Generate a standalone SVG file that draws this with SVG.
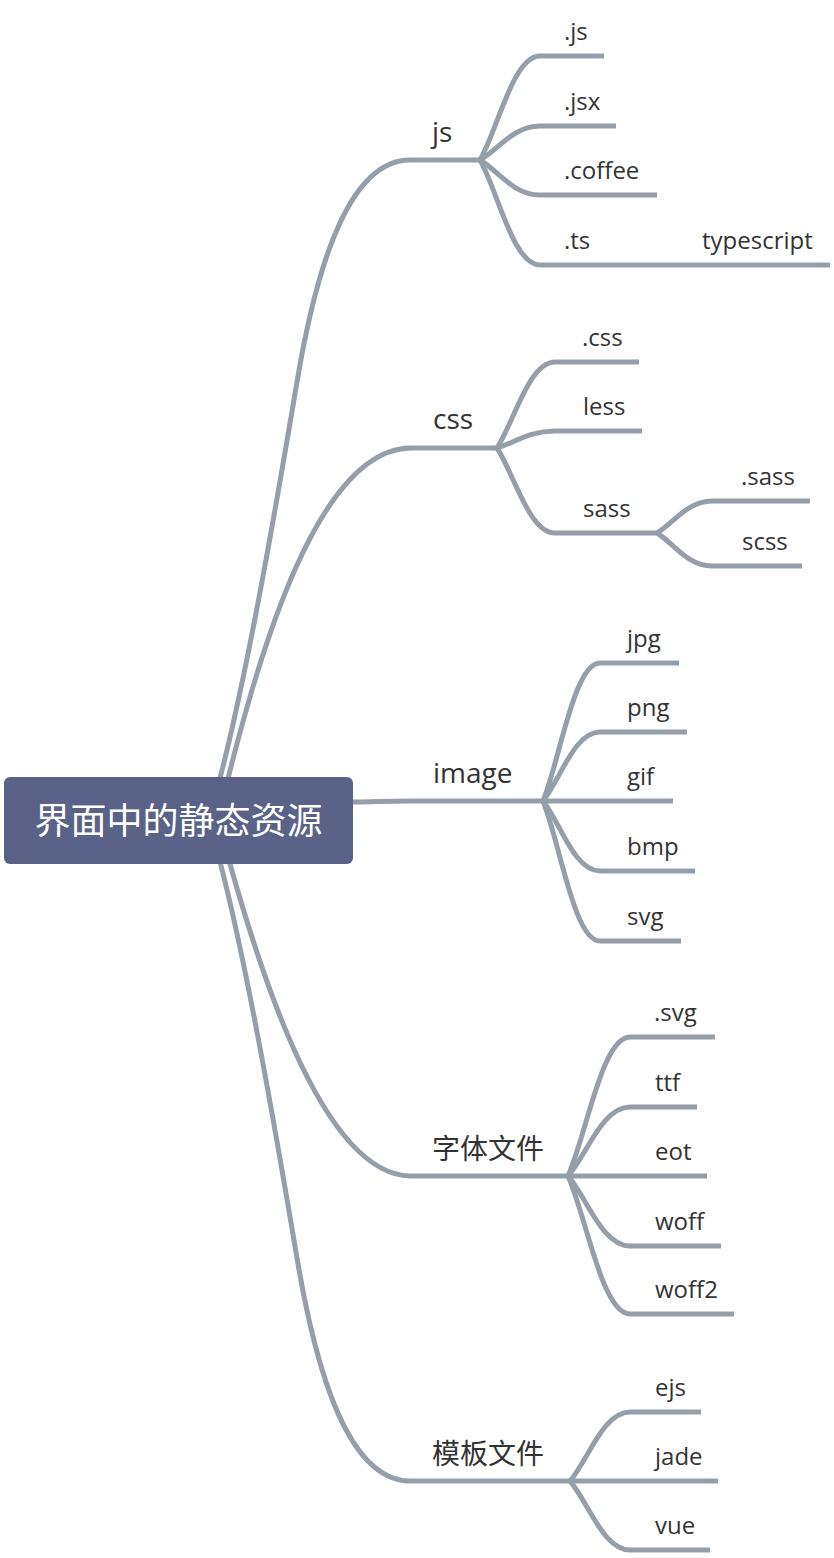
<svg xmlns="http://www.w3.org/2000/svg" width="834" height="1558" viewBox="0 0 834 1558">
<style>
.c{fill:none;stroke:#969fa9;stroke-width:5;stroke-linecap:butt}
.m{font-family:"Open Sans","Noto Sans CJK SC",sans-serif;font-size:28px;fill:#333333}
.t{font-family:"Open Sans","Noto Sans CJK SC",sans-serif;font-size:24px;fill:#333333}
.r{font-family:"Noto Sans CJK SC","Open Sans",sans-serif;font-size:36px;fill:#ffffff}
</style>
<rect width="834" height="1558" fill="#ffffff"/>
<g id="connectors">
<path class="c" d="M205 830 C240 725 280 482 297 382 C317 262 350 160 410 160 L480 160"/>
<path class="c" d="M218 820 C260 640 320 450 410 448 L497 448"/>
<path class="c" d="M340 802 C380 802 380 801 410 801 L543 801"/>
<path class="c" d="M218 820 C255 960 320 1174 410 1176 L568 1176"/>
<path class="c" d="M205 810 C240 915 280 1158 297 1258 C317 1378 350 1481 410 1481 L570 1481"/>
<path class="c" d="M480 160 C498 129 513 56 540 56 L604 56"/>
<path class="c" d="M480 160 C498 150 513 126 540 126 L616 126"/>
<path class="c" d="M480 160 C498 170.5 513 195 540 195 L657 195"/>
<path class="c" d="M480 160 C498 191.5 513 265 540 265 L606 265"/>
<path class="c" d="M606 265 L830 265"/>
<path class="c" d="M497 448 C514 422 529 362 555 362 L639 362"/>
<path class="c" d="M497 448 C514 443 529 431 555 431 L642 431"/>
<path class="c" d="M497 448 C514 473.5 529 533 555 533 L657 533"/>
<path class="c" d="M657 533 C673.5 523.4 687 501 712 501 L810 501"/>
<path class="c" d="M657 533 C673.5 543 687 566 712 566 L802 566"/>
<path class="c" d="M543 801 C560 759.6 574 663 600 663 L679 663"/>
<path class="c" d="M543 801 C560 780.3 574 732 600 732 L687 732"/>
<path class="c" d="M543 801 L673 801"/>
<path class="c" d="M543 801 C560 822 574 871 600 871 L695 871"/>
<path class="c" d="M543 801 C560 843 574 941 600 941 L681 941"/>
<path class="c" d="M568 1176 C586.6 1134.3 602 1037 630 1037 L715 1037"/>
<path class="c" d="M568 1176 C586.6 1155.3 602 1107 630 1107 L697 1107"/>
<path class="c" d="M568 1176 L707 1176"/>
<path class="c" d="M568 1176 C586.6 1197 602 1246 630 1246 L721 1246"/>
<path class="c" d="M568 1176 C586.6 1217.4 602 1314 630 1314 L734 1314"/>
<path class="c" d="M570 1481 C588 1460.3 603 1412 630 1412 L701 1412"/>
<path class="c" d="M570 1481 L718 1481"/>
<path class="c" d="M570 1481 C588 1501.7 603 1550 630 1550 L710 1550"/>
</g>
<g id="root">
<rect x="4" y="777" width="349" height="87" rx="6" fill="#5a6287"/>
<text class="r" x="178.5" y="834" text-anchor="middle">界面中的静态资源</text>
</g>
<g id="n-js"><text class="m" x="432" y="142">js</text></g>
<g id="n-css"><text class="m" x="433" y="429">css</text></g>
<g id="n-image"><text class="m" x="433" y="783">image</text></g>
<g id="n-font"><text class="m" x="432" y="1159">字体文件</text></g>
<g id="n-tpl"><text class="m" x="432" y="1464">模板文件</text></g>
<g id="n-dotjs"><text class="t" x="564" y="40">.js</text></g>
<g id="n-jsx"><text class="t" x="564" y="110">.jsx</text></g>
<g id="n-coffee"><text class="t" x="564" y="179">.coffee</text></g>
<g id="n-ts"><text class="t" x="564" y="249">.ts</text></g>
<g id="n-typescript"><text class="t" x="702" y="249">typescript</text></g>
<g id="n-dotcss"><text class="t" x="582" y="346">.css</text></g>
<g id="n-less"><text class="t" x="583" y="415">less</text></g>
<g id="n-sass"><text class="t" x="583" y="517">sass</text></g>
<g id="n-dotsass"><text class="t" x="741" y="485">.sass</text></g>
<g id="n-scss"><text class="t" x="742" y="550">scss</text></g>
<g id="n-jpg"><text class="t" x="627" y="647">jpg</text></g>
<g id="n-png"><text class="t" x="627" y="716">png</text></g>
<g id="n-gif"><text class="t" x="627" y="785">gif</text></g>
<g id="n-bmp"><text class="t" x="627" y="855">bmp</text></g>
<g id="n-svg"><text class="t" x="627" y="925">svg</text></g>
<g id="n-dotsvg"><text class="t" x="654" y="1021">.svg</text></g>
<g id="n-ttf"><text class="t" x="655" y="1091">ttf</text></g>
<g id="n-eot"><text class="t" x="655" y="1160">eot</text></g>
<g id="n-woff"><text class="t" x="655" y="1230">woff</text></g>
<g id="n-woff2"><text class="t" x="655" y="1298">woff2</text></g>
<g id="n-ejs"><text class="t" x="655" y="1396">ejs</text></g>
<g id="n-jade"><text class="t" x="655" y="1465">jade</text></g>
<g id="n-vue"><text class="t" x="655" y="1534">vue</text></g>
</svg>
